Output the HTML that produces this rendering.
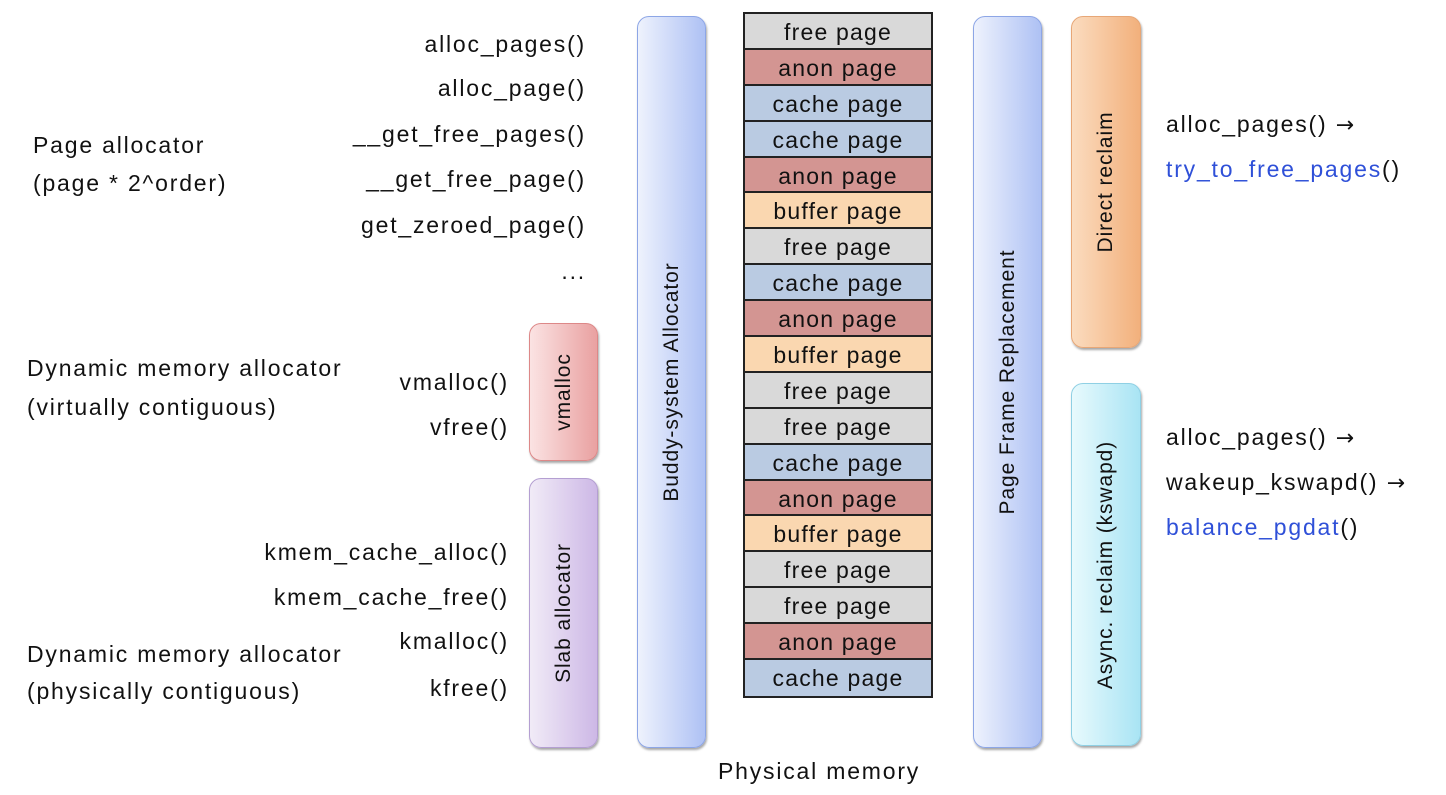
<!DOCTYPE html>
<html><head><meta charset="utf-8"><style>
body{margin:0;width:1446px;height:795px;background:#fff;position:relative;overflow:hidden;font-family:"Liberation Sans","DejaVu Sans",sans-serif;color:#111}
.t{position:absolute;font-size:23px;letter-spacing:1.8px;white-space:nowrap;line-height:26px}
.r{text-align:right}
.box{position:absolute;border-radius:12px;box-shadow:1px 2px 2px rgba(0,0,0,.35)}
.v{position:absolute;left:50%;top:50%;transform:translate(-50%,-50%) rotate(-90deg);font-size:21px;letter-spacing:0.9px;white-space:nowrap}
.blue{background:linear-gradient(90deg,#eef2fd,#aec1f4);border:1px solid #8da6e6}
.mem{position:absolute;left:743px;top:12px;width:190px;border:2px solid #222;box-sizing:border-box}
.mem div{height:35.9px;box-sizing:border-box;border-bottom:2px solid #222;text-align:center;font-size:23px;letter-spacing:1.2px;line-height:36px}
.mem div:last-child{border-bottom:none}
.f{background:#d9d9d9}.a{background:#d39592}.c{background:#bacbe2}.b{background:#fad7b0}
.lk{color:#2f50d8}
.ar{font-family:"DejaVu Sans",sans-serif;font-size:22px}
</style></head><body>
<div class="t" style="left:33px;top:132px">Page allocator</div>
<div class="t" style="left:33px;top:170px">(page * 2^order)</div>
<div class="t r" style="right:860px;top:31px">alloc_pages()</div>
<div class="t r" style="right:860px;top:75px">alloc_page()</div>
<div class="t r" style="right:860px;top:121px">__get_free_pages()</div>
<div class="t r" style="right:860px;top:166px">__get_free_page()</div>
<div class="t r" style="right:860px;top:212px">get_zeroed_page()</div>
<div class="t r" style="right:860px;top:258px">...</div>
<div class="t" style="left:27px;top:355px">Dynamic memory allocator</div>
<div class="t" style="left:27px;top:394px">(virtually contiguous)</div>
<div class="t r" style="right:937px;top:369px">vmalloc()</div>
<div class="t r" style="right:937px;top:414px">vfree()</div>
<div class="t r" style="right:937px;top:539px">kmem_cache_alloc()</div>
<div class="t r" style="right:937px;top:584px">kmem_cache_free()</div>
<div class="t r" style="right:937px;top:628px">kmalloc()</div>
<div class="t r" style="right:937px;top:675px">kfree()</div>
<div class="t" style="left:27px;top:641px">Dynamic memory allocator</div>
<div class="t" style="left:27px;top:678px">(physically contiguous)</div>

<div class="box" style="left:529px;top:323px;width:67px;height:136px;background:linear-gradient(90deg,#fbe3e3,#e9a1a1);border:1px solid #d88"><div class="v">vmalloc</div></div>
<div class="box" style="left:529px;top:478px;width:67px;height:268px;background:linear-gradient(90deg,#f1ebf7,#cdb8e6);border:1px solid #b49fd2"><div class="v">Slab allocator</div></div>
<div class="box blue" style="left:637px;top:16px;width:67px;height:730px"><div class="v">Buddy-system Allocator</div></div>
<div class="box blue" style="left:973px;top:16px;width:67px;height:730px"><div class="v">Page Frame Replacement</div></div>
<div class="box" style="left:1071px;top:16px;width:68px;height:330px;background:linear-gradient(90deg,#fbdcbf,#f2b07c);border:1px solid #e7a777"><div class="v">Direct reclaim</div></div>
<div class="box" style="left:1071px;top:383px;width:68px;height:361px;background:linear-gradient(90deg,#e8fafd,#a9e4f4);border:1px solid #8fd0e4"><div class="v">Async. reclaim (kswapd)</div></div>

<div class="mem">
<div class="f">free page</div><div class="a">anon page</div><div class="c">cache page</div><div class="c">cache page</div><div class="a">anon page</div><div class="b">buffer page</div><div class="f">free page</div><div class="c">cache page</div><div class="a">anon page</div><div class="b">buffer page</div><div class="f">free page</div><div class="f">free page</div><div class="c">cache page</div><div class="a">anon page</div><div class="b">buffer page</div><div class="f">free page</div><div class="f">free page</div><div class="a">anon page</div><div class="c">cache page</div>
</div>
<div class="t" style="left:718px;top:758px">Physical memory</div>

<div class="t" style="left:1166px;top:111px">alloc_pages() <span class="ar">→</span></div>
<div class="t" style="left:1166px;top:156px"><span class="lk">try_to_free_pages</span>()</div>
<div class="t" style="left:1166px;top:424px">alloc_pages() <span class="ar">→</span></div>
<div class="t" style="left:1166px;top:469px">wakeup_kswapd() <span class="ar">→</span></div>
<div class="t" style="left:1166px;top:514px"><span class="lk">balance_pgdat</span>()</div>
</body></html>
